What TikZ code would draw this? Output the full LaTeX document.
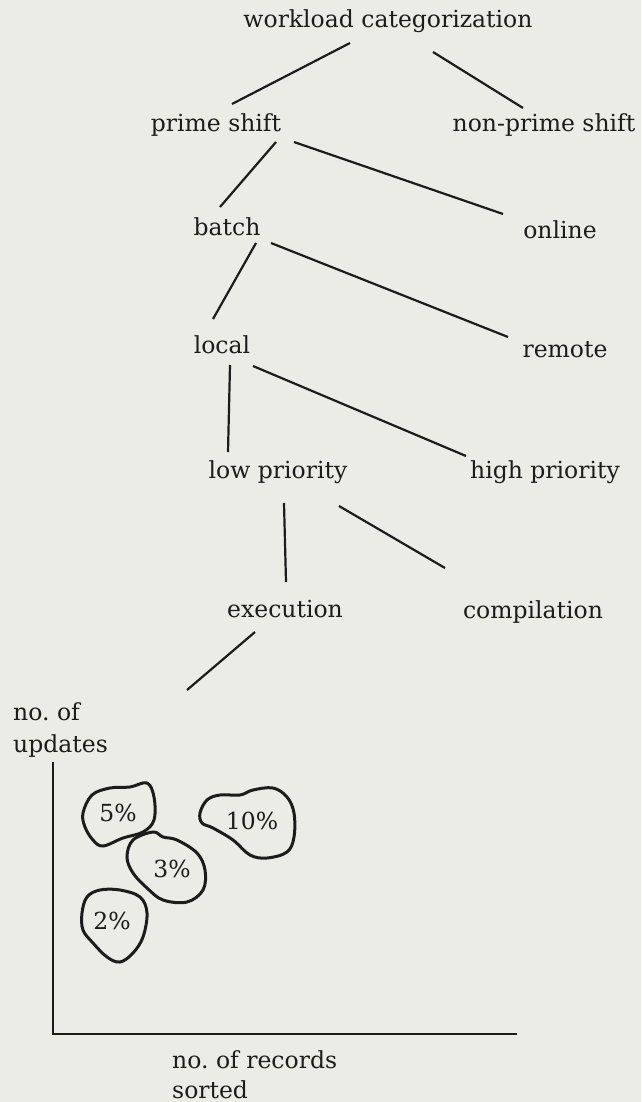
\documentclass[tikz,border=0pt]{standalone}
\usepackage{fontspec}
\setmainfont{DejaVu Serif}
\frenchspacing
\definecolor{paper}{RGB}{236,236,230}
\definecolor{ink}{RGB}{28,28,28}
\tikzset{
  lbl/.style={anchor=base, inner sep=0pt, font=\fontsize{23.5}{28}\selectfont, text=ink},
  lbll/.style={anchor=base west, inner sep=0pt, font=\fontsize{23.5}{28}\selectfont, text=ink},
  edge/.style={draw=ink, line width=2.2pt},
  blob/.style={draw=ink, line width=3pt},
  axis/.style={draw=ink, line width=2.2pt}
}
\begin{document}
\begin{tikzpicture}[x=1pt,y=-1pt]
\fill[paper] (0,0) rectangle (641,1102);
\useasboundingbox (0,0) rectangle (641,1102);
% tree nodes (anchor base)
\node[lbl] (wc) at (388,28) {workload categorization};
\node[lbl] (ps) at (216,132) {prime shift};
\node[lbl] (nps) at (544,132) {non-prime shift};
\node[lbl] (ba) at (227,235) {batch};
\node[lbl] (on) at (560,238) {online};
\node[lbl] (lo) at (222,353) {local};
\node[lbl] (re) at (565,357) {remote};
\node[lbl] (lp) at (278,478) {low priority};
\node[lbl] (hp) at (545,478) {high priority};
\node[lbl] (ex) at (285,617) {execution};
\node[lbl] (co) at (533,618) {compilation};
\coordinate (exend) at (187,690);
% connectors (offsets from base anchors)
\draw[edge] ([shift={(-38,15)}]wc.base) -- ([shift={(16,-28)}]ps.base);
\draw[edge] ([shift={(45,24)}]wc.base) -- ([shift={(-21,-24)}]nps.base);
\draw[edge] ([shift={(60,10)}]ps.base) -- ([shift={(-7,-28)}]ba.base);
\draw[edge] ([shift={(78,10)}]ps.base) -- ([shift={(-57,-24)}]on.base);
\draw[edge] ([shift={(29,8)}]ba.base) -- ([shift={(-9,-34)}]lo.base);
\draw[edge] ([shift={(44,8)}]ba.base) -- ([shift={(-57,-20)}]re.base);
\draw[edge] ([shift={(8,12)}]lo.base) -- ([shift={(-50,-26)}]lp.base);
\draw[edge] ([shift={(31,13)}]lo.base) -- ([shift={(-79,-22)}]hp.base);
\draw[edge] ([shift={(6,25)}]lp.base) -- ([shift={(1,-35)}]ex.base);
\draw[edge] ([shift={(61,28)}]lp.base) -- ([shift={(-88,-50)}]co.base);
\draw[edge] ([shift={(-30,15)}]ex.base) -- (exend);
% axes
\coordinate (origin) at (53,1034);
\coordinate (ytop) at (53,762);
\coordinate (xend) at (517,1034);
\draw[axis] (ytop) -- (origin) -- (xend);
\node[lbll] (yl1) at (13,720) {no. of};
\node[lbll] (yl2) at (13,752) {updates};
\node[lbll] (xl1) at (172,1068) {no. of records};
\node[lbll] (xl2) at (172,1098) {sorted};
% blobs
\draw[blob] plot[smooth cycle, tension=0.6] coordinates {(83,813) (92,795) (110,788) (130,787) (147,783) (154,797) (154,820) (143,832) (123,838) (103,846) (93,840) (85,827)};
\draw[blob] plot[smooth cycle, tension=0.6] coordinates {(200,813) (207,800) (220,795) (240,795) (253,790) (273,788) (287,797) (294,813) (294,837) (287,852) (267,858) (250,855) (233,840) (213,828) (202,823)};
\draw[blob] plot[smooth cycle, tension=0.6] coordinates {(153,832) (133,840) (127,857) (133,873) (147,888) (163,900) (187,902) (203,890) (205,870) (197,853) (177,840) (163,837)};
\draw[blob] plot[smooth cycle, tension=0.6] coordinates {(87,897) (100,890) (120,890) (140,897) (147,913) (143,937) (133,953) (120,962) (107,957) (93,943) (83,930) (82,913)};
\node[lbl] (p5) at (118,821) {5\%};
\node[lbl] (p10) at (252,829) {10\%};
\node[lbl] (p3) at (172,877) {3\%};
\node[lbl] (p2) at (112,929) {2\%};
\end{tikzpicture}
\end{document}
